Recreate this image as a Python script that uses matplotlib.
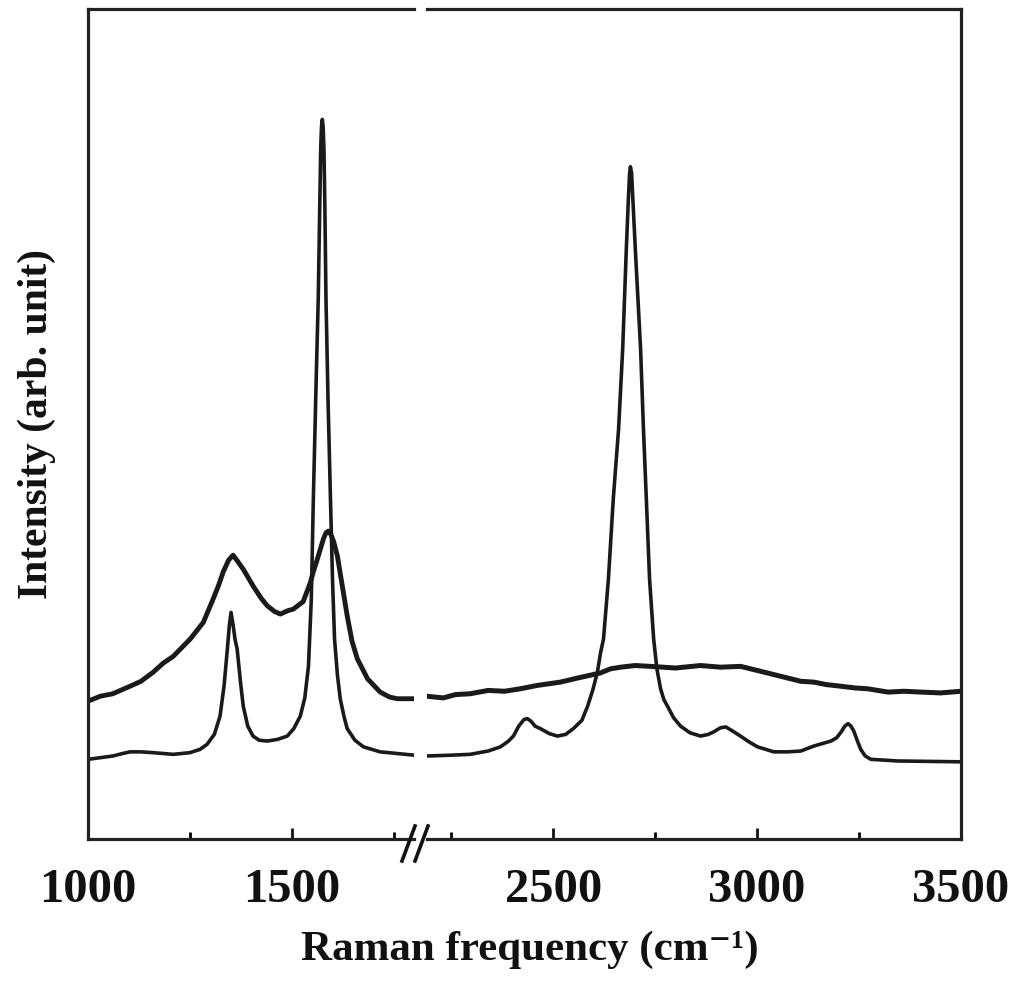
import matplotlib
matplotlib.use('Agg')
import matplotlib.pyplot as plt
from matplotlib.lines import Line2D

# Raman spectra (x in cm-1, intensity in arb. units 0-100)
# lower curve (sharp peaks), left part of the broken axis
low_x_left = [1000, 1061, 1085, 1103, 1130, 1160, 1209, 1250, 1275, 1292, 1310, 1324,
              1334, 1342, 1347, 1351, 1356, 1361, 1366, 1374, 1381, 1392, 1405, 1420,
              1440, 1465, 1489, 1505, 1521, 1532, 1541, 1548, 1553, 1560, 1565, 1569,
              1571, 1573, 1575, 1577, 1579, 1581, 1584, 1589, 1595, 1600, 1605, 1612,
              1619, 1628, 1636, 1655, 1676, 1717, 1800]
low_y_left = [9.6, 10.0, 10.3, 10.5, 10.5, 10.4, 10.2, 10.4, 10.8, 11.4, 12.6, 14.8,
              18.5, 22.9, 25.8, 27.3, 25.8, 24.0, 22.9, 19.0, 16.0, 13.6, 12.4, 11.9,
              11.8, 12.0, 12.4, 13.3, 14.8, 17.0, 20.8, 28.9, 41.0, 55.4, 65.1, 77.1,
              83.1, 85.8, 86.7, 85.8, 83.1, 77.1, 65.1, 53.0, 41.0, 31.3, 24.1, 19.8,
              16.9, 14.8, 13.3, 11.9, 11.1, 10.5, 10.1]

# upper curve (broad bands), left part
up_x_left = [1000, 1030, 1061, 1103, 1130, 1160, 1185, 1209, 1251, 1283, 1307, 1320,
             1332, 1345, 1356, 1368, 1381, 1405, 1425, 1440, 1458, 1472, 1490, 1504,
             1528, 1545, 1553, 1562, 1570, 1578, 1584, 1590, 1596, 1603, 1612, 1624,
             1636, 1648, 1661, 1686, 1717, 1740, 1759, 1800]
up_y_left = [16.6, 17.2, 17.5, 18.4, 19.0, 20.1, 21.2, 22.0, 24.1, 26.1, 28.9, 30.5,
             32.2, 33.6, 34.2, 33.4, 32.5, 30.5, 29.0, 28.1, 27.4, 27.1, 27.5, 27.7,
             28.6, 30.8, 32.2, 33.6, 34.9, 36.2, 36.9, 37.1, 36.7, 35.8, 34.1, 30.5,
             26.9, 23.8, 21.7, 19.3, 17.7, 17.1, 16.9, 16.9]

# lower curve, right part
low_x_right = [2190, 2250, 2296, 2340, 2370, 2390, 2402, 2415, 2428, 2436, 2445, 2455,
               2468, 2490, 2510, 2530, 2549, 2570, 2584, 2597, 2608, 2616, 2623, 2635,
               2647, 2660, 2670, 2679, 2684, 2687, 2689, 2692, 2695, 2701, 2714, 2721,
               2728, 2736, 2746, 2754, 2763, 2771, 2780, 2795, 2812, 2835, 2861, 2880,
               2893, 2910, 2923, 2940, 2959, 2980, 3001, 3041, 3075, 3107, 3139, 3160,
               3181, 3195, 3206, 3215, 3223, 3230, 3237, 3246, 3254, 3265, 3279, 3345,
               3500]
low_y_right = [10.0, 10.1, 10.2, 10.6, 11.1, 11.8, 12.4, 13.6, 14.4, 14.5, 14.2, 13.6,
               13.3, 12.7, 12.4, 12.6, 13.3, 14.3, 16.0, 18.0, 20.1, 22.5, 24.1, 31.3,
               41.0, 49.4, 59.0, 71.1, 77.1, 80.2, 81.0, 80.2, 77.1, 71.1, 59.0, 49.4,
               41.0, 31.3, 24.1, 20.5, 18.1, 16.8, 16.0, 14.6, 13.6, 12.8, 12.4, 12.6,
               12.9, 13.4, 13.5, 13.0, 12.4, 11.7, 11.1, 10.5, 10.5, 10.6, 11.2, 11.5,
               11.8, 12.2, 12.9, 13.6, 13.9, 13.6, 13.0, 11.8, 10.8, 10.0, 9.6, 9.4,
               9.3]

# upper curve, right part
up_x_right = [2190, 2230, 2260, 2296, 2340, 2380, 2419, 2460, 2517, 2560, 2615, 2640,
              2665, 2700, 2738, 2800, 2861, 2910, 2959, 3009, 3058, 3107, 3139, 3170,
              3206, 3240, 3271, 3321, 3360, 3402, 3450, 3500]
up_y_right = [17.2, 17.0, 17.4, 17.5, 17.9, 17.8, 18.1, 18.5, 18.9, 19.4, 20.0, 20.5,
              20.7, 20.9, 20.8, 20.6, 20.9, 20.7, 20.8, 20.2, 19.6, 19.0, 18.9, 18.6,
              18.4, 18.2, 18.1, 17.7, 17.8, 17.7, 17.6, 17.8]

xlim_left = (1000, 1800)
xlim_right = (2190, 3500)

W, H = 1021, 987
fig = plt.figure(figsize=(W / 100, H / 100), dpi=100)

def px(x0, y0, x1, y1):
    # pixel box (top-left origin) -> figure fraction [left, bottom, width, height]
    return [x0 / W, 1 - y1 / H, (x1 - x0) / W, (y1 - y0) / H]

axL = fig.add_axes(px(88, 10, 414, 840))
axR = fig.add_axes(px(427, 10, 961, 840))

font = 'Liberation Serif'
ink = '#1a1a1a'

for ax in (axL, axR):
    ax.set_ylim(0, 100)
    ax.set_yticks([])
    for s in ax.spines.values():
        s.set_linewidth(2.3)
        s.set_color('#222222')
    ax.tick_params(axis='x', which='major', direction='in', length=8, width=2,
                   pad=20, labelsize=35, colors='#111111')
    ax.tick_params(axis='x', which='minor', direction='in', length=5, width=2)

axL.plot(low_x_left, low_y_left, color=ink, lw=2.6, solid_joinstyle='round')
axL.plot(up_x_left, up_y_left, color=ink, lw=3.5, solid_joinstyle='round')
axR.plot(low_x_right, low_y_right, color=ink, lw=2.6, solid_joinstyle='round')
axR.plot(up_x_right, up_y_right, color=ink, lw=3.6, solid_joinstyle='round')

axL.set_xlim(*xlim_left)
axR.set_xlim(*xlim_right)
axL.spines['right'].set_visible(False)
axR.spines['left'].set_visible(False)

axL.set_xticks([1000, 1500])
axL.set_xticks([1250, 1750], minor=True)
axR.set_xticks([2500, 3000, 3500])
axR.set_xticks([2250, 2750, 3250], minor=True)

for ax in (axL, axR):
    for lab in ax.get_xticklabels():
        lab.set_fontfamily(font)
        lab.set_fontweight('bold')

# break marks on the bottom axis
for x0 in (402, 415):
    fig.add_artist(Line2D([x0 / W, (x0 + 13) / W], [1 - 862 / H, 1 - 827 / H],
                          color='#111111', lw=2.6))

fig.text(530 / W, 1 - 950 / H, 'Raman frequency (cm\u207b\u00b9)',
         ha='center', va='center', fontsize=31, family=[font, 'DejaVu Serif'],
         fontweight='bold', color='#111111')
fig.text(37 / W, 1 - 424 / H, 'Intensity (arb. unit)', rotation=90,
         ha='center', va='center', fontsize=30, fontfamily=font, fontweight='bold',
         color='#111111')

fig.savefig('out.png', dpi=100)
